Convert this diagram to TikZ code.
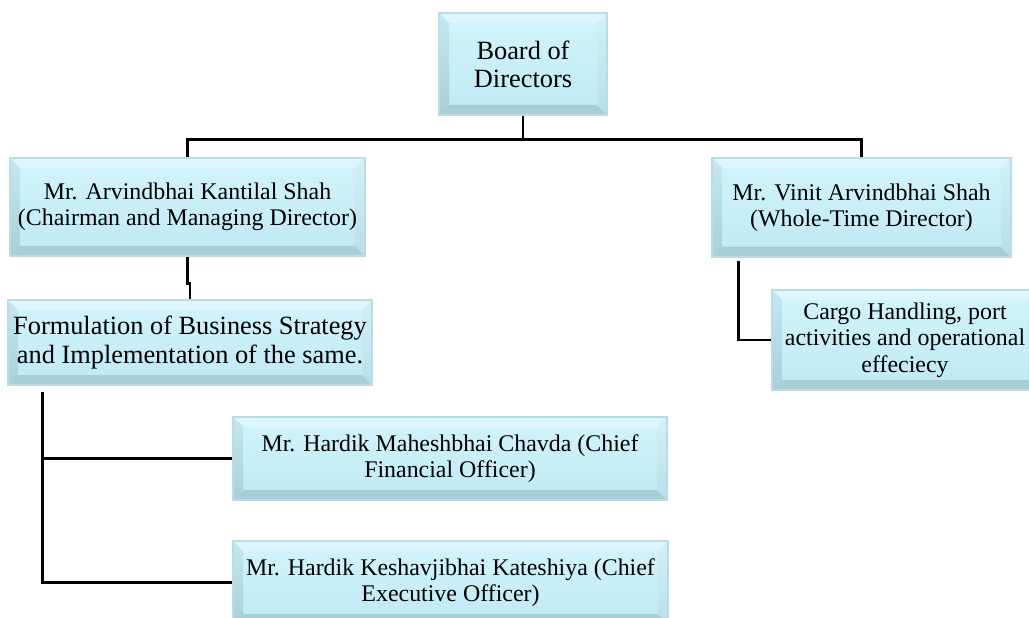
\documentclass[tikz,border=0pt]{standalone}
\usepackage{fontspec}
\setmainfont{Liberation Serif}
\usepackage{xcolor}
\usepackage{tikz}
\usetikzlibrary{positioning}

\definecolor{facetop}{HTML}{D3F4FB}
\definecolor{facebot}{HTML}{C0E9F4}
\definecolor{bevtop}{HTML}{DDF6FB}
\definecolor{bevlefttop}{HTML}{C4E8F1}
\definecolor{bevleft}{HTML}{A7CFDB}
\definecolor{bevbottom}{HTML}{AACED8}
\definecolor{bevrighttop}{HTML}{D2F1F8}
\definecolor{bevright}{HTML}{B9DEE8}
\definecolor{boxline}{HTML}{BCDCE4}

\newcommand{\bev}{0.2cm}

\begin{document}
\begin{tikzpicture}[line width=1.5pt]
        \tikzset{bevelbox/.style={draw=boxline, line width=0.6pt, top color=facetop, bottom color=facebot,
            align=center, inner sep=0pt, font=\fontsize{13.6}{15}\selectfont,
            path picture={
              \fill[bevtop] (path picture bounding box.north west) -- (path picture bounding box.north east)
                -- ([shift={(-\bev,-\bev)}]path picture bounding box.north east)
                -- ([shift={(\bev,-\bev)}]path picture bounding box.north west) -- cycle;
              \shade[top color=bevlefttop, bottom color=bevleft] (path picture bounding box.north west) -- (path picture bounding box.south west)
                -- ([shift={(\bev,\bev)}]path picture bounding box.south west)
                -- ([shift={(\bev,-\bev)}]path picture bounding box.north west) -- cycle;
              \fill[bevbottom] (path picture bounding box.south west) -- (path picture bounding box.south east)
                -- ([shift={(-\bev,\bev)}]path picture bounding box.south east)
                -- ([shift={(\bev,\bev)}]path picture bounding box.south west) -- cycle;
              \shade[top color=bevrighttop, bottom color=bevright] (path picture bounding box.north east) -- (path picture bounding box.south east)
                -- ([shift={(-\bev,\bev)}]path picture bounding box.south east)
                -- ([shift={(-\bev,-\bev)}]path picture bounding box.north east) -- cycle;
            }}}
        \tikzset{bigtext/.style={font=\fontsize{15}{16}\selectfont}}
        \useasboundingbox (0,0) rectangle (20.58,-12.36);

        % Board and directors
        \node [bevelbox, bigtext, minimum width=3.36cm, minimum height=2.04cm] (board) at (10.46,-1.28) {Board of\\Directors};
        \node [bevelbox, minimum width=7.1cm, minimum height=1.96cm] (arvind) at (3.75,-4.14) {Mr. Arvindbhai Kantilal Shah\\(Chairman and Managing Director)};
        \node [bevelbox, minimum width=5.98cm, minimum height=1.98cm] (vinit) at (17.23,-4.15) {Mr. Vinit Arvindbhai Shah\\(Whole-Time Director)};

        % Roles
        \node [bevelbox, bigtext, minimum width=7.28cm, minimum height=1.7cm] (strategy) at (3.8,-6.85) {Formulation of Business Strategy\\and Implementation of the same.};
        \node [bevelbox, minimum width=5.32cm, minimum height=2cm] (cargo) at (18.1,-6.8) {Cargo Handling, port\\activities and operational\\effeciecy};

        % Officers
        \node [bevelbox, minimum width=8.68cm, minimum height=1.66cm] (cfo) at (9.0,-9.17) {Mr. Hardik Maheshbhai Chavda (Chief\\Financial Officer)};
        \node [bevelbox, minimum width=8.7cm, minimum height=1.66cm] (ceo) at (9.01,-11.65) {Mr. Hardik Keshavjibhai Kateshiya (Chief\\Executive Officer)};

        % Connectors
        \draw (board.south) -- ++(0,-0.48) -| (arvind.north);
        \draw (board.south) -- ++(0,-0.48) -| (vinit.north);
        \draw (arvind.south) -- ++(0,-0.54) -| (strategy.north);
        \draw ([xshift=0.7cm,yshift=-0.12cm]strategy.south west) |- (cfo.west);
        \draw ([xshift=0.7cm,yshift=-0.12cm]strategy.south west) |- (ceo.west);
        \draw ([xshift=0.54cm,yshift=-0.06cm]vinit.south west) |- (cargo.west);
    \end{tikzpicture}
\end{document}
